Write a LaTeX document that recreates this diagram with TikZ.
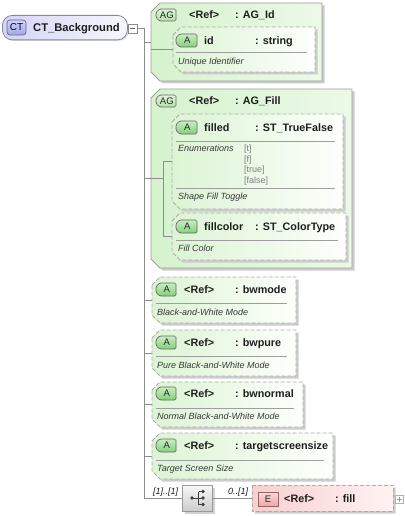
\documentclass[tikz,border=0pt]{standalone}
\usepackage{fontspec}
\setmainfont{Liberation Sans}
\definecolor{lnc}{HTML}{8E8E8E}
\definecolor{txt}{HTML}{1E1E1E}
\definecolor{dtxt}{HTML}{383838}
\definecolor{agL}{HTML}{D6F2CE}
\definecolor{agR}{HTML}{ECF9E8}
\definecolor{aL}{HTML}{DCF4D4}
\definecolor{aR}{HTML}{FDFFFC}
\definecolor{eL}{HTML}{F8D0D0}
\definecolor{eR}{HTML}{FFF2F2}
\definecolor{ctL}{HTML}{D4D4F5}
\definecolor{ctR}{HTML}{F7F7FE}
\definecolor{abT}{HTML}{C8EEC0}
\definecolor{abB}{HTML}{86CF7F}
\definecolor{agbT}{HTML}{DDF4D7}
\definecolor{agbB}{HTML}{B4E2AA}
\definecolor{ctbT}{HTML}{D2D2F6}
\definecolor{ctbB}{HTML}{A6A6E4}
\definecolor{ebT}{HTML}{FBD8D8}
\definecolor{ebB}{HTML}{EFA6A6}
\newcommand\cbox[7]{% name, style, x1, y1, x2, y2, chamfer
  \path[dropsh, shift={(2.5,2.5)}] (#3,#4+#7) -- (#3+#7,#4) -- (#5,#4) -- (#5,#6) -- (#3+#7,#6) -- (#3,#6-#7) -- cycle;
  \path[#2] (#3,#4+#7) -- (#3+#7,#4) -- (#5,#4) -- (#5,#6) -- (#3+#7,#6) -- (#3,#6-#7) -- cycle;
  \node[inner sep=0pt,outer sep=0pt,minimum width={#5-#3},minimum height={#6-#4},anchor=north west] (#1) at (#3,#4) {};}
\newcommand\badge[7]{% name, style, x1, y1, x2, y2, text
  \path[#2] (#3+3.5,#4) -- (#5,#4) -- (#5,#6) -- (#3+3.5,#6) -- (#3,#6-3.5) -- (#3,#4+3.5) -- cycle;
  \node[bdg] (#1) at ({(#3+#5)/2+0.8},{(#4+#6)/2}) {#7};}
\tikzset{
  conn/.style={draw=lnc, line width=0.8pt},
  sepline/.style={draw=black!38, line width=0.8pt},
  dropsh/.style={fill=black!20},
  agbox/.style={draw=black!38, line width=0.8pt, left color=agL, right color=agR},
  abox/.style={draw=black!33, line width=0.9pt, dash pattern=on 4pt off 2pt, left color=aL, right color=aR},
  ebox/.style={draw=black!33, line width=0.9pt, dash pattern=on 4pt off 2pt, left color=eL, right color=eR},
  agbadge/.style={draw=black!60, line width=0.7pt, rounded corners=1.5pt, top color=agbT, bottom color=agbB},
  abadge/.style={draw=black!60, line width=0.7pt, rounded corners=1.5pt, top color=abT, bottom color=abB},
  ebadge/.style={draw=red!30!black!60, line width=0.7pt, top color=ebT, bottom color=ebB},
  bdg/.style={font=\fontsize{9.5}{10}\selectfont, text=black!85, inner sep=0pt, text height=6.8pt, text depth=0pt},
  ttl/.style={font=\fontsize{10.8}{12}\selectfont\bfseries, text=txt, inner sep=0pt, anchor=west, text height=7.7pt, text depth=0pt},
  dsc/.style={font=\fontsize{9}{10}\selectfont\itshape, text=dtxt, inner sep=0pt, anchor=west, text height=6.4pt, text depth=0pt},
  enumv/.style={font=\fontsize{9}{10}\selectfont, text=black!50, inner sep=0pt, anchor=west, text height=6.4pt, text depth=0pt},
  mult/.style={font=\fontsize{9}{10}\selectfont\itshape, text=txt, inner sep=0pt, anchor=west, text height=6.4pt, text depth=0pt},
  ctbox/.style={draw=black!30!blue!25!white!70!black, line width=0.8pt, rounded corners=10pt, left color=ctL, right color=ctR, inner sep=0pt},
  ctbadge/.style={draw=blue!30!black!60, line width=0.7pt, rounded corners=3pt, top color=ctbT, bottom color=ctbB, font=\fontsize{10}{11}\selectfont, text=blue!30!black, inner sep=0pt, minimum width=19pt, minimum height=15pt},
  smallbox/.style={draw=black!45, line width=0.6pt, fill=white, inner sep=0pt, minimum width=9pt, minimum height=9pt},
  seqbox/.style={draw=black!40, line width=0.8pt, top color=black!3, bottom color=black!20, inner sep=0pt, minimum width=30pt, minimum height=26pt}
}
\begin{document}
\begin{tikzpicture}[x=1pt,y=-1pt]
\useasboundingbox (0,0) rectangle (404,516);
% CT box
\fill[black!12, rounded corners=10pt] (3.5,16.5) rectangle (128.5,41);
\node[ctbox, minimum width=125pt, minimum height=24.5pt, anchor=north west] (ct) at (2,15) {};
\node[ctbadge] (ctb) at (16.5,27.5) {CT};
\node[ttl, font=\fontsize{11.2}{12}\selectfont\bfseries] (ctn) at (33,27.5) {CT\_Background};
\node[smallbox] (ctm) at (132.5,28.5) {};
\draw[black!60, line width=0.7pt] ([xshift=2pt]ctm.west) -- ([xshift=-2pt]ctm.east);
% AG_Id
\cbox{agid}{agbox}{151}{3}{322}{81}{9}
\badge{agidb}{agbadge}{156}{9}{176}{21}{AG}
\node[ttl] (agidr) at (189,15) {<Ref>};
\node[ttl] (agidt) at (235,15) {: AG\_Id};
\cbox{aid}{abox}{173}{27}{315}{72}{8}
\badge{aidb}{abadge}{176}{34}{197}{47}{A}
\node[ttl] (aidn) at (204,40.5) {id};
\node[ttl] (aidt) at (255,40.5) {: string};
\draw[sepline] (176,52.5) -- (307,52.5);
\node[dsc] (aidd) at (178,61.5) {Unique Identifier};
% AG_Fill
\cbox{agfill}{agbox}{151}{89}{352}{268}{9}
\badge{agfb}{agbadge}{156}{95}{176}{107}{AG}
\node[ttl] (agfr) at (189,101) {<Ref>};
\node[ttl] (agft) at (235,101) {: AG\_Fill};
\cbox{afil}{abox}{172}{114}{343}{209}{8}
\badge{afilb}{abadge}{176}{121}{197}{134}{A}
\node[ttl] (afiln) at (204,127.5) {filled};
\node[ttl] (afilt) at (255,127.5) {: ST\_TrueFalse};
\draw[sepline] (176,141) -- (335,141);
\node[dsc] (enuml) at (178,148.5) {Enumerations};
\node[enumv] (ev1) at (244,148.5) {[t]};
\node[enumv] (ev2) at (244,159) {[f]};
\node[enumv] (ev3) at (244,169.5) {[true]};
\node[enumv] (ev4) at (244,180) {[false]};
\draw[sepline] (176,188) -- (335,188);
\node[dsc] (afild) at (178,196.5) {Shape Fill Toggle};
\cbox{acol}{abox}{172}{213}{346}{260}{8}
\badge{acolb}{abadge}{176}{220}{197}{233}{A}
\node[ttl] (acoln) at (204,226.5) {fillcolor};
\node[ttl] (acolt) at (255,226.5) {: ST\_ColorType};
\draw[sepline] (176,240) -- (338,240);
\node[dsc] (acold) at (178,248.5) {Fill Color};
% bwmode
\cbox{bwm}{abox}{152}{277}{296}{323}{8}
\badge{bwmb}{abadge}{156}{283}{176}{296}{A}
\node[ttl] (bwmr) at (184,289.5) {<Ref>};
\node[ttl] (bwmt) at (235,289.5) {: bwmode};
\draw[sepline] (156,303.5) -- (287,303.5);
\node[dsc] (bwmd) at (157,312) {Black-and-White Mode};
% bwpure
\cbox{bwp}{abox}{152}{330}{296}{376}{8}
\badge{bwpb}{abadge}{156}{336}{176}{349}{A}
\node[ttl] (bwpr) at (184,342.5) {<Ref>};
\node[ttl] (bwpt) at (235,342.5) {: bwpure};
\draw[sepline] (156,356.5) -- (287,356.5);
\node[dsc] (bwpd) at (157,365) {Pure Black-and-White Mode};
% bwnormal
\cbox{bwn}{abox}{152}{382}{303}{427}{8}
\badge{bwnb}{abadge}{156}{387}{176}{400}{A}
\node[ttl] (bwnr) at (184,393.5) {<Ref>};
\node[ttl] (bwnt) at (235,393.5) {: bwnormal};
\draw[sepline] (156,408.5) -- (294,408.5);
\node[dsc] (bwnd) at (157,416) {Normal Black-and-White Mode};
% targetscreensize
\cbox{tss}{abox}{152}{433}{333}{479}{8}
\badge{tssb}{abadge}{156}{439}{176}{452}{A}
\node[ttl] (tssr) at (184,445.5) {<Ref>};
\node[ttl] (tsst) at (235,445.5) {: targetscreensize};
\draw[sepline] (156,460) -- (324,460);
\node[dsc] (tssd) at (157,468) {Target Screen Size};
% sequence
\fill[black!18] (184.5,487.5) rectangle (214.5,513.5);
\node[seqbox] (seq) at (197,498) {};
\fill[black!75] ([xshift=-5pt]seq.center) circle (1.9pt);
\draw[black!75, line width=0.9pt] ([xshift=-5pt]seq.center) -- ([xshift=1.5pt]seq.center);
\draw[black!75, line width=0.9pt] ([xshift=1.5pt,yshift=6.5pt]seq.center) -- ([xshift=1.5pt,yshift=-6.5pt]seq.center);
\foreach \dy in {6.5,0,-6.5}{
  \draw[black!75, line width=0.9pt] ([xshift=1.5pt,yshift=\dy pt]seq.center) -- ([xshift=6pt,yshift=\dy pt]seq.center);
  \fill[black!75] ([xshift=6pt,yshift=\dy pt]seq.center) circle (1.9pt);
}
\node[mult] (m1) at (153,491.5) {[1]..[1]};
\node[mult] (m2) at (228,491.5) {0..[1]};
% element fill
\cbox{efill}{ebox}{252}{485}{393}{511}{0}
\path[ebadge] (258,492) rectangle (278,506.5);
\node[bdg] (efb) at (268,499.3) {E};
\node[ttl] (efr) at (284,498.5) {<Ref>};
\node[ttl] (eft) at (335,498.5) {: fill};
\node[smallbox, minimum width=8pt, minimum height=8pt, draw=black!30] (eplus) at (399,499) {};
\draw[black!40, line width=0.6pt] ([xshift=1.8pt]eplus.west) -- ([xshift=-1.8pt]eplus.east);
\draw[black!40, line width=0.6pt] ([yshift=-1.8pt]eplus.north) -- ([yshift=1.8pt]eplus.south);
% connectors
\coordinate (j0) at (144,28.5);
\coordinate (jf) at (163,0);
\draw[conn] (ctm.east) -- (j0) -- (j0 |- seq.west) -- (seq.west);
\draw[conn] (j0 |- agid.west) -- (agid.west);
\draw[conn] (agid.west |- aid.west) -- (aid.west);
\draw[conn] (j0 |- agfill.west) -- (jf |- agfill.west);
\draw[conn] (jf |- afil.west) -- (jf |- acol.west);
\draw[conn] (jf |- afil.west) -- (afil.west);
\draw[conn] (jf |- acol.west) -- (acol.west);
\draw[conn] (j0 |- bwm.west) -- (bwm.west);
\draw[conn] (j0 |- bwp.west) -- (bwp.west);
\draw[conn] (j0 |- bwn.west) -- (bwn.west);
\draw[conn] (j0 |- tss.west) -- (tss.west);
\draw[conn] (seq.east) -- (efill.west);
\end{tikzpicture}
\end{document}
